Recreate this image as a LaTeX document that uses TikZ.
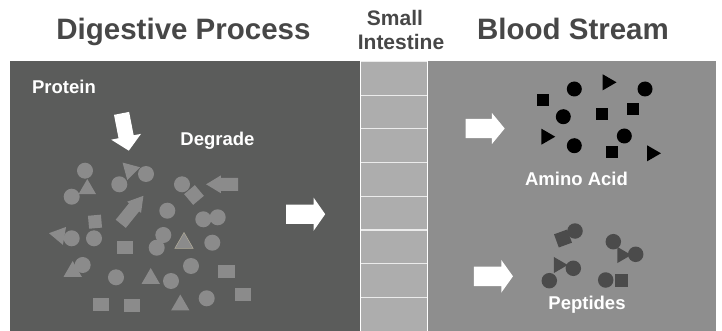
\documentclass[tikz,border=0pt]{standalone}
\usepackage{fontspec}
\setmainfont{Liberation Sans}
\usetikzlibrary{shapes.geometric, shapes.arrows}

\definecolor{gut}{HTML}{5B5C5B}
\definecolor{wall}{HTML}{ADADAD}
\definecolor{blood}{HTML}{8E8E8E}
\definecolor{chunk}{HTML}{8B8B8B}
\definecolor{ink}{HTML}{4B4B4B}
\definecolor{heading}{HTML}{474747}
\definecolor{rim}{HTML}{B3AD9A}

\tikzset{
  ball/.style = {circle, fill=#1, minimum size=16pt, inner sep=0pt},
  ball/.default = chunk,
  block/.style = {rectangle, fill=#1, minimum width=16pt, minimum height=13pt, inner sep=0pt},
  block/.default = chunk,
  wedge/.style = {regular polygon, regular polygon sides=3, fill=#1, minimum size=21pt, inner sep=0pt},
  wedge/.default = chunk,
  push/.style = {single arrow, fill=white, inner xsep=0pt, inner ysep=9.5pt, minimum height=39pt,
                 minimum width=0pt, single arrow head extend=6.5pt, single arrow tip angle=105},
  title/.style = {text=heading, font=\fontsize{29.5}{32}\selectfont\bfseries, anchor=base},
  tag/.style = {text=white, font=\fontsize{18.5}{20}\selectfont\bfseries, anchor=base}
}

\begin{document}
\begin{tikzpicture}[x=1pt, y=-1pt]
  \useasboundingbox (0,0) rectangle (722,331);

  % panels
  \fill[gut] (10,61) rectangle (360,331);
  \fill[blood] (428,61) rectangle (716,331);
  \fill[wall] (361,61) rectangle (427,331);
  \draw[white, line width=1.2pt] (360.7,61) -- (360.7,331) (427.3,61) -- (427.3,331);
  \foreach \i in {0,...,7}
    \draw[white!92!black, line width=1.1pt] (361,61.5+33.7*\i) -- (427,61.5+33.7*\i);

  % headings
  \node[title] (dp) at (183.5,40) {Digestive Process};
  \node[title] (bs) at (573,40) {Blood Stream};
  \node[title, font=\fontsize{21}{24}\selectfont\bfseries] (sm) at (395,25.5) {Small};
  \node[title, font=\fontsize{21}{24}\selectfont\bfseries] (it) at (401,49.3) {Intestine};

  % labels
  \node[tag] (pr) at (64,94) {Protein};
  \node[tag] (dg) at (217.5,146) {Degrade};
  \node[tag] (aa) at (576.5,185.3) {Amino Acid};
  \node[tag] (pp) at (587,309.3) {Peptides};

  % arrows
  \node[push, rotate=-79, minimum height=38pt, inner ysep=7.5pt, single arrow head extend=7.5pt,
        single arrow tip angle=94] (in) at (124.5,128.5) {};
  \node[push, single arrow head extend=7pt, single arrow tip angle=110] (out) at (302.3,214.2) {};
  \node[push, single arrow head extend=6pt, single arrow tip angle=101] (toaa) at (481.2,128.5) {};
  \node[push, single arrow head extend=6.7pt, single arrow tip angle=109] (topp) at (490,276.3) {};
  \node[push, fill=chunk, rotate=180, minimum height=32pt, inner ysep=6.3pt,
        single arrow head extend=2.4pt, single arrow tip angle=62] (bk) at (227.5,184.3) {};
  \node[push, fill=chunk, rotate=51, minimum height=36pt, inner ysep=6.3pt,
        single arrow head extend=2.4pt, single arrow tip angle=62] (up) at (128.7,214) {};

  % protein pieces
  \node[ball] (c1) at (85,170.7) {};     \node[wedge, minimum size=20pt] (t1) at (87.3,189) {};
  \node[ball] (c2) at (71.7,196.7) {};
  \node[wedge, rotate=-75] (t2) at (130,170) {};
  \node[ball] (c3) at (146,174) {};      \node[ball] (c4) at (119.3,184.3) {};
  \node[ball] (c5) at (182,184.3) {};    \node[block, rotate=40, minimum width=14pt, minimum height=14pt] (s1) at (194,195) {};
  \node[ball] (c6) at (167.3,210.7) {};
  \node[ball] (c7) at (203.3,219.3) {};  \node[ball] (c8) at (217.7,217.3) {};
  \node[block, rotate=5, minimum width=13pt] (s2) at (95,221.7) {};
  \node[wedge, rotate=80] (t3) at (59.3,235) {};
  \node[ball] (c9) at (71.7,238.3) {};   \node[ball] (c10) at (94,238.3) {};
  \node[block] (s3) at (125,247.3) {};
  \node[ball] (c11) at (163.3,235) {};   \node[ball] (c12) at (156.7,247.7) {};
  \node[wedge, draw=rim, line width=0.5pt] (t4) at (184,243) {};
  \node[ball] (c13) at (212.3,242.7) {};
  \node[ball] (c14) at (82.7,265) {};    \node[wedge] (t5) at (72.7,271.5) {};
  \node[ball] (c15) at (191,266) {};
  \node[block, minimum width=17pt, minimum height=12.5pt] (s4) at (226.7,271.7) {};
  \node[ball] (c16) at (116,277.3) {};   \node[wedge] (t6) at (150.7,278.5) {};
  \node[ball] (c17) at (171,281) {};
  \node[block] (s5) at (243.3,294.3) {}; \node[ball] (c18) at (206.7,298.3) {};
  \node[block] (s6) at (101,304.3) {};   \node[block] (s7) at (131.7,305.7) {};
  \node[wedge] (t7) at (180.3,305) {};

  % amino acids
  \node[block=black, minimum width=12pt, minimum height=12pt] (a1) at (542.7,100) {};
  \node[ball=black, minimum size=15pt] (a2) at (574.3,89) {};
  \node[wedge=black, rotate=-90, minimum size=18.5pt] (a3) at (607.3,82.3) {};
  \node[ball=black, minimum size=15pt] (a4) at (645,89) {};
  \node[ball=black, minimum size=15pt] (a5) at (563.3,116.7) {};
  \node[block=black, minimum width=12pt, minimum height=12pt] (a6) at (601.7,114) {};
  \node[block=black, minimum width=12pt, minimum height=12pt] (a7) at (632.7,109.3) {};
  \node[wedge=black, rotate=-90, minimum size=18.5pt] (a8) at (546,136.7) {};
  \node[ball=black, minimum size=15pt] (a9) at (574.3,145.7) {};
  \node[ball=black, minimum size=15pt] (a10) at (624.3,136) {};
  \node[block=black, minimum width=12pt, minimum height=12pt] (a11) at (611.7,151.7) {};
  \node[wedge=black, rotate=-90, minimum size=18.5pt] (a12) at (651.7,153.3) {};

  % peptides
  \node[block=ink, rotate=20, minimum width=14pt, minimum height=14pt] (p1) at (563,238.5) {};
  \node[ball=ink, minimum size=15.5pt] (p2) at (575,231) {};
  \node[ball=ink, minimum size=15.5pt] (p3) at (613.3,241.7) {};
  \node[wedge=ink, rotate=-90, minimum size=18.5pt] (p4) at (622,255) {};
  \node[ball=ink, minimum size=15.5pt] (p5) at (635.7,254.3) {};
  \node[wedge=ink, rotate=-90, minimum size=18.5pt] (p6) at (558.5,265) {};
  \node[ball=ink, minimum size=15.5pt] (p7) at (573.3,268.3) {};
  \node[ball=ink, minimum size=15.5pt] (p8) at (549.3,280.7) {};
  \node[ball=ink, minimum size=15.5pt] (p9) at (605.7,280) {};
  \node[block=ink, minimum width=13pt, minimum height=13pt] (p10) at (621.7,280) {};
\end{tikzpicture}
\end{document}
